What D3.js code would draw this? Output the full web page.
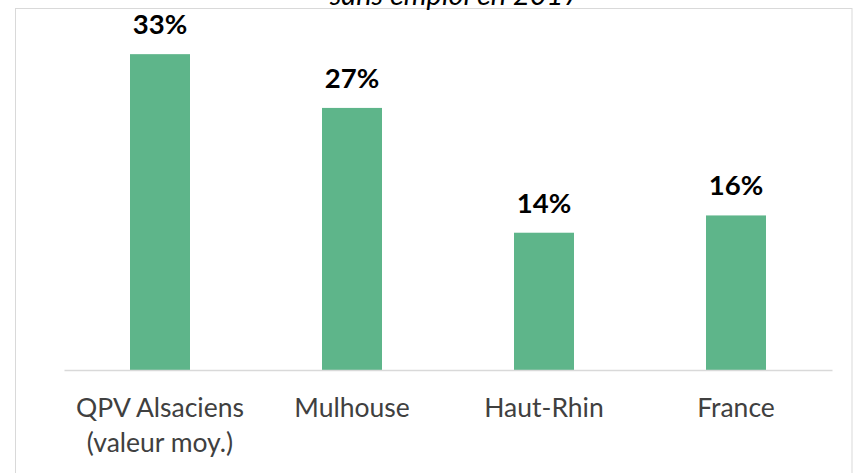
<!DOCTYPE html>
<html>
<head>
<meta charset="utf-8">
<script src="https://cdn.jsdelivr.net/npm/d3@7"></script>
<style>
  body { margin: 0; background: #fff; }
  svg { display: block; font-family: Lato, "Liberation Sans", sans-serif; }
</style>
</head>
<body>
<div id="chart"></div>
<script>
// Data
const categories = ["QPV Alsaciens\n(valeur moy.)", "Mulhouse", "Haut-Rhin", "France"];
const values = [0.329, 0.273, 0.143, 0.161];
const titleText = "sans emploi en 2017";

const WIDTH = 861;
const HEIGHT = 473;

// Plot area
const plot = { left: 64, right: 832, base: 370 };

const svg = d3
  .select("#chart")
  .append("svg")
  .attr("width", WIDTH)
  .attr("height", HEIGHT);

// Chart frame
svg
  .append("rect")
  .attr("x", 15.5)
  .attr("y", 8.5)
  .attr("width", 836.5)
  .attr("height", 480)
  .attr("fill", "#fff")
  .attr("stroke", "#d9d9d9")
  .attr("stroke-width", 1);

// Title (only the bottom of it shows, as in the source)
svg
  .append("text")
  .attr("x", 455)
  .attr("y", 5)
  .attr("text-anchor", "middle")
  .attr("font-style", "italic")
  .attr("font-size", 29)
  .attr("fill", "#000")
  .text(titleText);

// Scales
const x = d3
  .scaleBand()
  .domain(categories)
  .range([plot.left, plot.right])
  .paddingInner(0.6875)
  .paddingOuter(0.34375);

const y = d3.scaleLinear().domain([0, 0.35]).range([plot.base, plot.base - 336]);

// Bars
svg
  .selectAll(".bar")
  .data(values)
  .enter()
  .append("rect")
  .attr("class", "bar")
  .attr("x", (d, i) => x(categories[i]))
  .attr("y", (d) => y(d))
  .attr("width", x.bandwidth())
  .attr("height", (d) => y(0) - y(d))
  .attr("fill", "#5eb58a");

// Axis line
const xAxis = d3.axisBottom(x).tickSize(0).tickFormat("");
const axisG = svg
  .append("g")
  .attr("transform", "translate(0," + plot.base + ")")
  .call(xAxis);
axisG.select(".domain").attr("stroke", "#d9d9d9").attr("stroke-width", 1.5);

// Category labels
const catText = svg
  .selectAll(".cat")
  .data(categories)
  .enter()
  .append("text")
  .attr("class", "cat")
  .attr("text-anchor", "middle")
  .attr("font-size", 26.5)
  .attr("fill", "#404040")
  .attr("transform", (c) => "translate(" + (x(c) + x.bandwidth() / 2) + ",417)");

catText
  .selectAll("tspan")
  .data((c) => c.split("\n"))
  .enter()
  .append("tspan")
  .attr("x", 0)
  .attr("y", (s, i) => i * 35)
  .text((s) => s);

// Value labels
svg
  .selectAll(".val")
  .data(values)
  .enter()
  .append("text")
  .attr("class", "val")
  .attr("text-anchor", "middle")
  .attr("font-weight", "bold")
  .attr("font-size", 27.5)
  .attr("fill", "#000")
  .attr("x", (d, i) => x(categories[i]) + x.bandwidth() / 2)
  .attr("y", (d) => y(d) - 20)
  .text((d) => d3.format(".0%")(d));
</script>
</body>
</html>
